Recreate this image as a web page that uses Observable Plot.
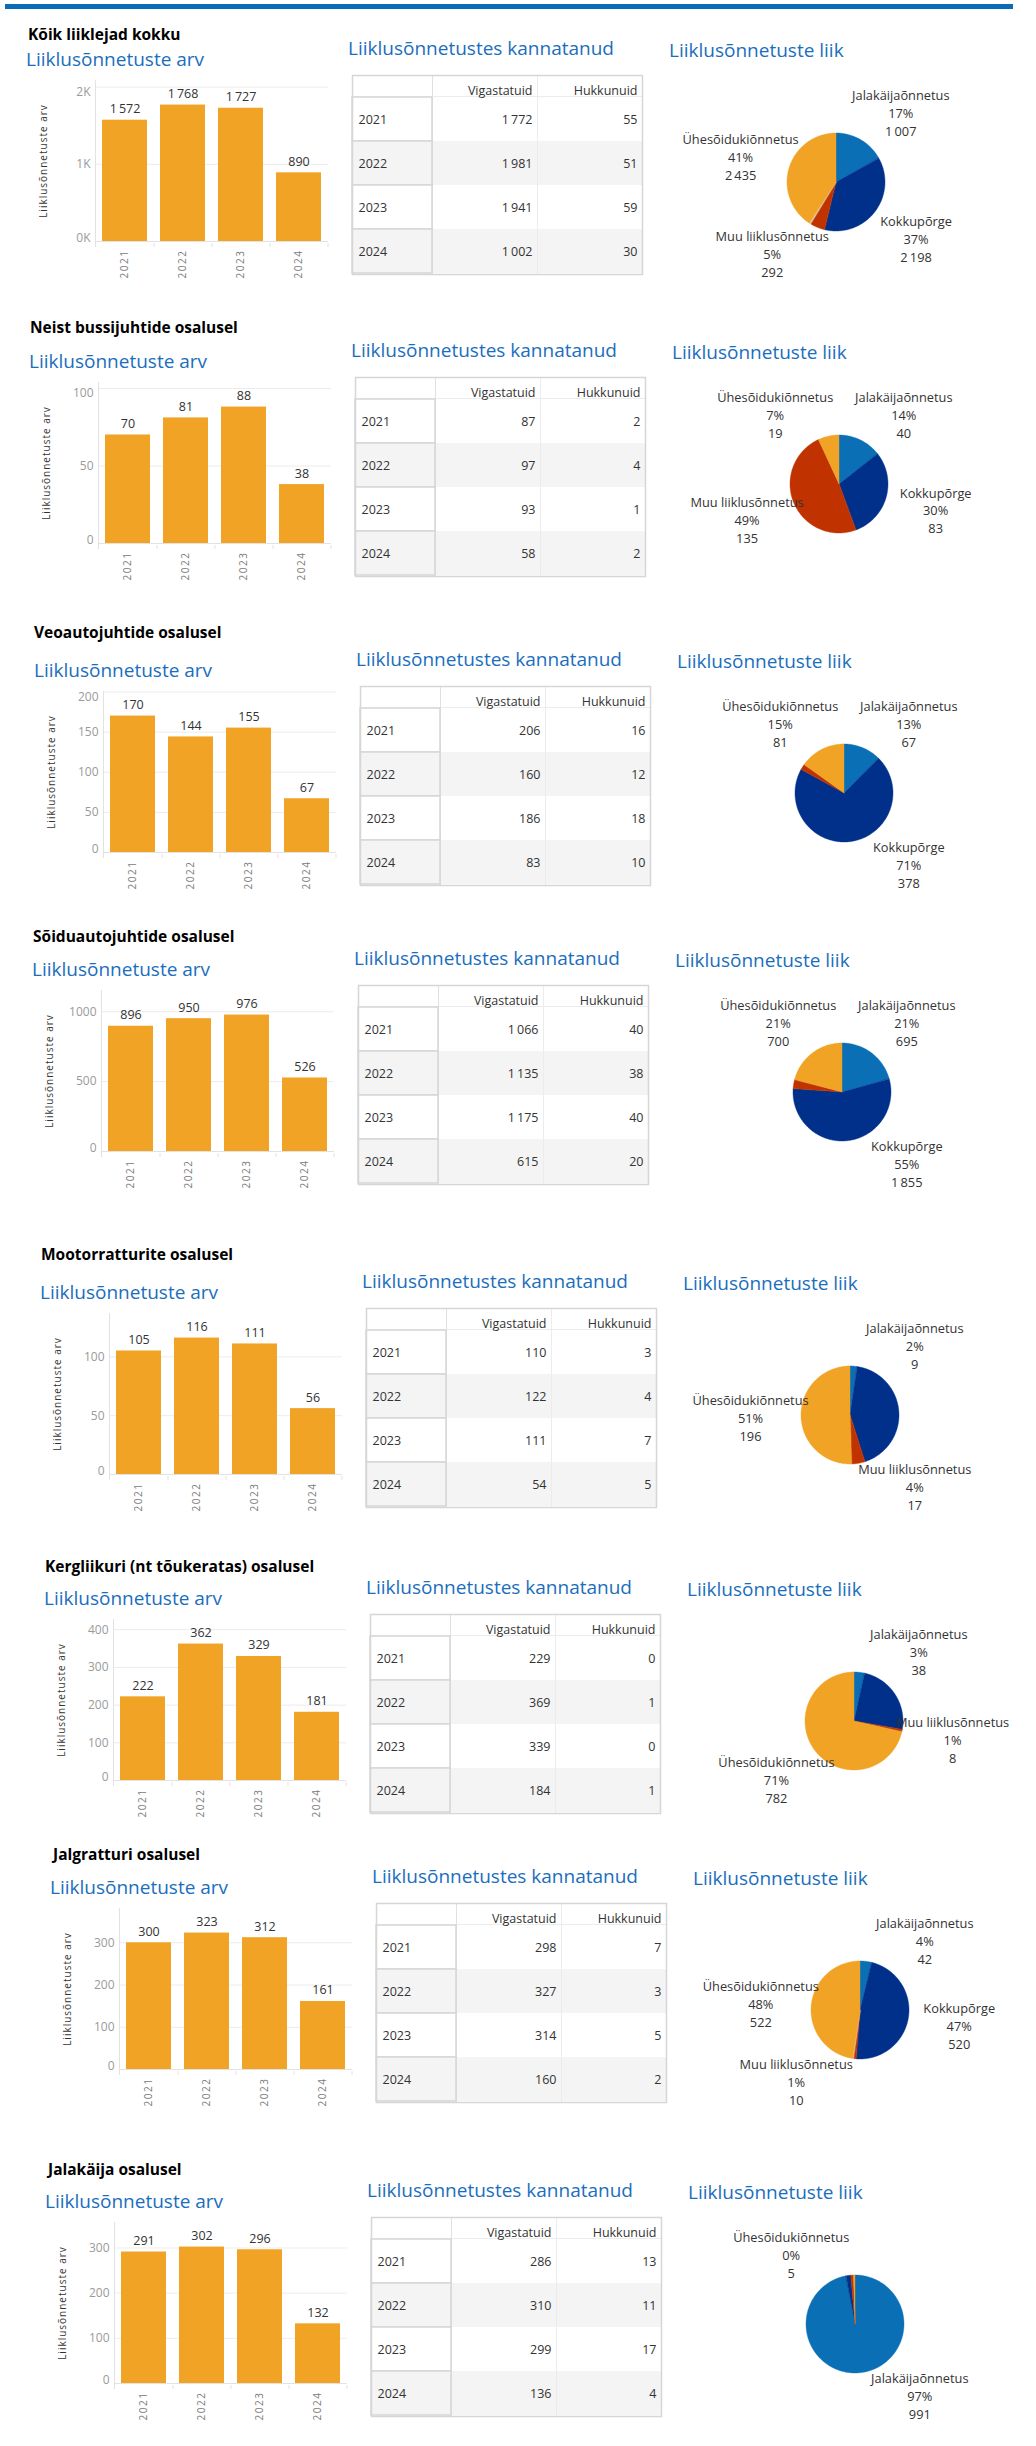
<!DOCTYPE html>
<html><head><meta charset="utf-8">
<script src="https://cdn.jsdelivr.net/npm/d3@7"></script>
<script src="https://cdn.jsdelivr.net/npm/@observablehq/plot@0.6"></script>
<style>
html,body{margin:0;padding:0;background:#fff}
body{width:1036px;height:2446px;position:relative;overflow:hidden;font-family:"Open Sans",sans-serif}
.abs{position:absolute;white-space:nowrap;line-height:1}
.topbar{left:5px;top:4px;width:1008px;height:5px;background:#0a6cb8}
.heading{font-weight:700;font-size:15.5px;color:#000;transform:translateY(-50%)}
.blue{color:#1a6ebd;font-size:19px;transform:translateY(-50%)}
svg.plotpart{position:absolute;overflow:visible}
g[aria-label="x-axis tick label"] text{letter-spacing:1.5px}
.ylab{letter-spacing:1px}
</style>
</head><body>
<div class="abs topbar"></div>
<script>
// ---------- data ----------
const sections = [
  "Kõik liiklejad kokku",
  "Neist bussijuhtide osalusel",
  "Veoautojuhtide osalusel",
  "Sõiduautojuhtide osalusel",
  "Mootorratturite osalusel",
  "Kergliikuri (nt tõukeratas) osalusel",
  "Jalgratturi osalusel",
  "Jalakäija osalusel"
];
const years = ["2021", "2022", "2023", "2024"];
const accidents = [
  [1572, 1768, 1727, 890],
  [70, 81, 88, 38],
  [170, 144, 155, 67],
  [896, 950, 976, 526],
  [105, 116, 111, 56],
  [222, 362, 329, 181],
  [300, 323, 312, 161],
  [291, 302, 296, 132]
];
const yTicks = [
  [0, 1000, 2000],
  [0, 50, 100],
  [0, 50, 100, 150, 200],
  [0, 500, 1000],
  [0, 50, 100],
  [0, 100, 200, 300, 400],
  [0, 100, 200, 300],
  [0, 100, 200, 300]
];
const tableHeaders = ["Vigastatuid", "Hukkunuid"];
const injured = [
  [1772, 1981, 1941, 1002],
  [87, 97, 93, 58],
  [206, 160, 186, 83],
  [1066, 1135, 1175, 615],
  [110, 122, 111, 54],
  [229, 369, 339, 184],
  [298, 327, 314, 160],
  [286, 310, 299, 136]
];
const killed = [
  [55, 51, 59, 30],
  [2, 4, 1, 2],
  [16, 12, 18, 10],
  [40, 38, 40, 20],
  [3, 4, 7, 5],
  [0, 1, 0, 1],
  [7, 3, 5, 2],
  [13, 11, 17, 4]
];
const accidentTypes = ["Jalakäijaõnnetus", "Kokkupõrge", "Muu liiklusõnnetus", "Teadmata", "Ühesõidukiõnnetus"];
const typeCounts = [
  [1007, 2198, 292, 25, 2435],
  [40, 83, 135, 0, 19],
  [67, 378, 10, 0, 81],
  [695, 1855, 98, 0, 700],
  [9, 166, 17, 0, 196],
  [38, 266, 8, 0, 782],
  [42, 520, 10, 2, 522],
  [991, 16, 9, 0, 5]
];
const typeLabelled = [
  [1, 1, 1, 0, 1],
  [1, 1, 1, 0, 1],
  [1, 1, 0, 0, 1],
  [1, 1, 0, 0, 1],
  [1, 0, 1, 0, 1],
  [1, 0, 1, 0, 1],
  [1, 1, 1, 0, 1],
  [1, 0, 0, 0, 1]
];

// ---------- layout & style ----------
const origins = [[96,80],[99,382],[104,691],[102,990],[110,1313],[114,1619],[120,1908],[115,2222]];
const headingPos = [[28,35],[30,328],[34,633],[33,937],[41,1255],[45,1567],[53,1855],[48,2170]];
const FONT = '"Open Sans", sans-serif';
const BAR = "#f0a325";
const typeColors = ["#0b6fb6", "#00308a", "#c03200", "#dcdcdc", "#f0a325"];
const fmt = d3.formatLocale({decimal: ",", thousands: "\u2009", grouping: [3], currency: ["", ""]}).format(",");

function addText(cls, txt, x, y) {
  const d = document.createElement("div");
  d.className = "abs " + cls;
  d.textContent = txt;
  d.style.left = x + "px";
  d.style.top = y + "px";
  document.body.append(d);
}
function place(svg, x, y) {
  svg.classList.add("plotpart");
  svg.style.left = x + "px";
  svg.style.top = y + "px";
  document.body.append(svg);
}

function barChart(si) {
  const vals = accidents[si];
  const data = years.map((y, i) => ({year: y, value: vals[i]}));
  const ticks = yTicks[si];
  const yMax = d3.max(vals) * 1.18;
  const PW = 232, PH = 161, mL = 60, mT = 6, mR = 4, mB = 40;
  const tf = si === 0 ? d => (d / 1000) + "K" : d => String(d);
  const nearTop = t => (yMax - t) / yMax * PH < 8;
  const midT = ticks.filter(t => t !== 0 && !nearTop(t));
  const topT = ticks.filter(t => t !== 0 && nearTop(t));
  const lines = (index, scales, values, dims) => {
    const g = d3.create("svg:g");
    const x0 = dims.marginLeft, x1 = dims.width - dims.marginRight;
    const y0 = dims.marginTop, y1 = dims.height - dims.marginBottom;
    g.append("line").attr("x1", x0 - 0.5).attr("x2", x0 - 0.5).attr("y1", y0).attr("y2", y1 + 6).attr("stroke", "#e2e2e2");
    g.append("line").attr("x1", x0).attr("x2", x1).attr("y1", y1 + 0.5).attr("y2", y1 + 0.5).attr("stroke", "#e2e2e2");
    for (let i = 1; i <= years.length; i++) {
      const xx = x0 + i * (x1 - x0) / years.length;
      g.append("line").attr("x1", xx).attr("x2", xx).attr("y1", y1 + 2).attr("y2", y1 + 6).attr("stroke", "#e2e2e2");
    }
    return g.node();
  };
  return Plot.plot({
    width: mL + PW + mR, height: mT + PH + mB,
    marginLeft: mL, marginTop: mT, marginRight: mR, marginBottom: mB,
    style: {fontFamily: FONT, fontSize: "12px", color: "#333", background: "transparent", overflow: "visible"},
    x: {domain: years, paddingInner: 0.22, paddingOuter: 0.11, axis: null},
    y: {domain: [0, yMax], axis: null},
    marks: [
      Plot.ruleY(ticks.filter(t => t !== 0), {stroke: "#ececec"}),
      lines,
      Plot.barY(data, {x: "year", y: "value", fill: BAR}),
      Plot.text(data, {x: "year", y: "value", text: d => fmt(d.value), dy: -11, fill: "#333", fontSize: 12.5}),
      Plot.axisX({tickRotate: -90, tickSize: 0, tickPadding: 8, fill: "#7a7a7a", fontSize: 10, label: null}),
      Plot.text(midT, {y: d => d, frameAnchor: "left", dx: -6, textAnchor: "end", text: tf, fill: "#9a9a9a", fontSize: 12}),
      Plot.text(topT, {y: d => d, frameAnchor: "left", dx: -6, textAnchor: "end", lineAnchor: "top", text: tf, fill: "#9a9a9a", fontSize: 12}),
      Plot.text([0], {y: d => d, frameAnchor: "left", dx: -6, textAnchor: "end", lineAnchor: "bottom", text: tf, fill: "#9a9a9a", fontSize: 12}),
      Plot.text(["Liiklusõnnetuste arv"], {frameAnchor: "left", rotate: -90, dx: -53, textAnchor: "middle", text: d => d, fill: "#333", fontSize: 10, className: "ylab"})
    ]
  });
}

function tableChart(si) {
  const edges = [0, 80, 185, 290];
  const headerH = 21, rowH = 44.5;
  const cells = years.flatMap((yr, i) => [
    {year: yr, col: 0, text: yr, odd: i % 2},
    {year: yr, col: 1, text: fmt(injured[si][i]), odd: i % 2},
    {year: yr, col: 2, text: fmt(killed[si][i]), odd: i % 2}
  ]);
  const vcells = cells.filter(c => c.col > 0);
  const ycells = cells.filter(c => c.col === 0);
  return Plot.plot({
    width: 292, height: headerH + 1 + years.length * rowH + 1,
    marginTop: headerH + 1, marginLeft: 1, marginRight: 1, marginBottom: 1,
    style: {fontFamily: FONT, fontSize: "12.5px", color: "#333", background: "transparent", overflow: "visible"},
    x: {domain: [0, edges[3]], axis: null},
    y: {domain: years, axis: null, padding: 0},
    color: {type: "identity"},
    marks: [
      Plot.barX(vcells, {x1: d => edges[d.col], x2: d => edges[d.col + 1], y: "year", fill: d => d.odd ? "#f4f4f4" : "#ffffff"}),
      Plot.ruleX([edges[2]], {stroke: "#ececec", insetTop: -headerH}),
      Plot.ruleX([edges[1]], {stroke: "#e0e0e0", insetTop: -headerH}),
      Plot.frame({stroke: "#ececec"}),
      Plot.barX(ycells, {x1: d => edges[d.col], x2: d => edges[d.col + 1], y: "year", fill: d => d.odd ? "#f4f4f4" : "#ffffff", stroke: "#d6d6d6", strokeWidth: 1.5}),
      Plot.frame({stroke: "#d6d6d6", strokeWidth: 1.5, insetTop: -headerH}),
      Plot.text(ycells, {x: d => edges[d.col], y: "year", text: "text", dx: 6, textAnchor: "start", fill: "#333"}),
      Plot.text(vcells, {x: d => edges[d.col + 1], y: "year", text: "text", dx: -5, textAnchor: "end", fill: "#333"}),
      Plot.text(tableHeaders, {x: (d, i) => edges[i + 2], frameAnchor: "top", dy: -10.5, dx: -5, textAnchor: "end", text: d => d, fill: "#333"})
    ]
  });
}

function pieChart(si) {
  const W = 340, H = 270, R = 49;
  const vals = typeCounts[si];
  const total = d3.sum(vals);
  const arcs = d3.pie().sort(null).value(d => d.v)(
    accidentTypes.map((t, i) => ({type: t, v: vals[i], shown: typeLabelled[si][i]}))
  );
  const pts = [];
  for (const a of arcs) {
    if (a.data.v <= 0) continue;
    const n = Math.max(2, Math.ceil((a.endAngle - a.startAngle) / (Math.PI / 180)));
    for (let k = 0; k <= n; k++) {
      const ang = a.startAngle + (a.endAngle - a.startAngle) * k / n;
      pts.push({type: a.data.type, x: R * Math.sin(ang), y: R * Math.cos(ang)});
    }
  }
  const clamp = (v, lo, hi) => Math.max(lo, Math.min(hi, v));
  const labels = arcs.filter(a => a.data.shown).map(a => {
    const th = (a.startAngle + a.endAngle) / 2 * 180 / Math.PI;
    const phi = (th < 180 ? clamp(th, 40, 140) : clamp(th, 220, 320)) * Math.PI / 180;
    return {
      x: 100 * Math.sin(phi), y: 92 * Math.cos(phi),
      text: `${a.data.type}\n${Math.round(a.data.v / total * 100)}%\n${fmt(a.data.v)}`
    };
  });
  return Plot.plot({
    width: W, height: H, margin: 0,
    style: {fontFamily: FONT, fontSize: "12.8px", color: "#333", background: "transparent", overflow: "visible"},
    x: {domain: [-W / 2, W / 2], axis: null},
    y: {domain: [-H / 2, H / 2], axis: null},
    color: {domain: accidentTypes, range: typeColors},
    marks: [
      Plot.area(pts, {x1: "x", y1: "y", x2: 0, y2: 0, z: "type", fill: "type", stroke: "type", strokeWidth: 0.4}),
      Plot.text(labels, {x: "x", y: "y", text: "text", lineHeight: 1.4, fill: "#333", fontSize: 12.8})
    ]
  });
}

sections.forEach((title, si) => {
  const [ox, oy] = origins[si];
  const [hx, hy] = headingPos[si];
  addText("heading", title, hx, hy);
  addText("blue", "Liiklusõnnetuste arv", ox - 70, oy - 21);
  addText("blue", "Liiklusõnnetustes kannatanud", ox + 252, oy - 32);
  addText("blue", "Liiklusõnnetuste liik", ox + 573, oy - 30);
  place(barChart(si), ox - 60, oy - 6);
  place(tableChart(si), ox + 255, oy - 6);
  place(pieChart(si), ox + 740 - 170, oy + 102 - 135);
});
</script>
</body></html>
